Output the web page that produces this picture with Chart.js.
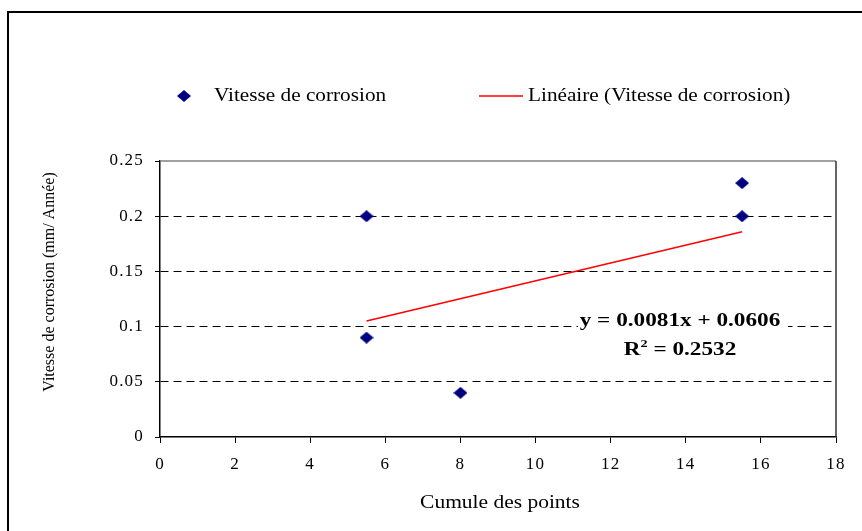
<!DOCTYPE html>
<html>
<head>
<meta charset="utf-8">
<script src="https://cdn.jsdelivr.net/npm/chart.js@4"></script>
<style>
html, body { margin: 0; padding: 0; background: #fff; }
</style>
</head>
<body>
<canvas id="corrosionChart" width="862" height="531"></canvas>
<script>
// données
const pointsX = [5.5, 5.5, 8, 15.5, 15.5];
const pointsY = [0.2, 0.09, 0.04, 0.23, 0.2];
const trendX = [5.5, 15.5];
const trendY = [0.105, 0.186];
const xTicks = [0, 2, 4, 6, 8, 10, 12, 14, 16, 18];
const yTicks = [0, 0.05, 0.1, 0.15, 0.2, 0.25];
const seriesLabels = ['Vitesse de corrosion', 'Linéaire (Vitesse de corrosion)'];
const xTitle = 'Cumule des points';
const yTitle = 'Vitesse de corrosion (mm/ Année)';
const equationText = 'y = 0.0081x + 0.0606';
const r2Value = '0.2532';

const SERIF = '"Liberation Serif", "Times New Roman", serif';
const NAVY = '#000080';

// losange un peu plus large que haut, comme dans Excel
function makeDiamond(w, h) {
    const c = document.createElement('canvas');
    c.width = w;
    c.height = h;
    const g = c.getContext('2d');
    g.fillStyle = NAVY;
    g.beginPath();
    g.moveTo(w / 2, 0);
    g.lineTo(w, h / 2);
    g.lineTo(w / 2, h);
    g.lineTo(0, h / 2);
    g.closePath();
    g.fill();
    return c;
}
const diamond = makeDiamond(14, 12);

// texte étiré horizontalement
function drawText(ctx, text, x, y, font, sx, align) {
    ctx.save();
    ctx.letterSpacing = '0px';
    ctx.font = font;
    const w = ctx.measureText(text).width * sx;
    const left = align === 'center' ? x - w / 2 : x;
    ctx.translate(left, y);
    ctx.scale(sx, 1);
    ctx.textAlign = 'left';
    ctx.fillText(text, 0, 0);
    ctx.restore();
    return w;
}

/**
 * Cadre, légende, titres et équation
 */
const decorPlugin = {
    id: 'decor',
    beforeDraw(chart) {
        chart.ctx.letterSpacing = '1.2px';
    },
    beforeDatasetsDraw(chart) {
        // fond blanc de l'étiquette d'équation (masque la grille)
        const ctx = chart.ctx;
        ctx.save();
        ctx.fillStyle = '#fff';
        ctx.fillRect(578, 307, 210, 56);
        ctx.restore();
    },
    afterDraw(chart) {
        const ctx = chart.ctx;
        const area = chart.chartArea;
        ctx.save();
        ctx.letterSpacing = '0px';

        // cadre extérieur
        ctx.strokeStyle = '#000';
        ctx.lineWidth = 2;
        ctx.strokeRect(8, 12, 870, 540);

        // bord haut et droit de la zone de tracé
        ctx.lineWidth = 1.5;
        ctx.strokeStyle = '#808080';
        ctx.beginPath();
        ctx.moveTo(area.left, area.top);
        ctx.lineTo(area.right, area.top);
        ctx.stroke();
        ctx.strokeStyle = '#333';
        ctx.beginPath();
        ctx.moveTo(area.right, area.top);
        ctx.lineTo(area.right, area.bottom);
        ctx.stroke();

        // légende
        const ly = 96;
        ctx.drawImage(diamond, 184 - 7, ly - 6);
        ctx.strokeStyle = '#ff0000';
        ctx.lineWidth = 1.5;
        ctx.beginPath();
        ctx.moveTo(479, ly);
        ctx.lineTo(523, ly);
        ctx.stroke();
        ctx.fillStyle = '#000';
        ctx.textBaseline = 'middle';
        drawText(ctx, seriesLabels[0], 214, ly, '18px ' + SERIF, 1.18, 'left');
        drawText(ctx, seriesLabels[1], 528, ly, '18px ' + SERIF, 1.18, 'left');

        // titres des axes
        drawText(ctx, xTitle, 500, 503, '19px ' + SERIF, 1.13, 'center');
        ctx.save();
        ctx.translate(50, 282);
        ctx.rotate(-Math.PI / 2);
        drawText(ctx, yTitle, 0, 0, '16px ' + SERIF, 1.0, 'center');
        ctx.restore();

        // équation de la tendance
        const sx = 1.29;
        drawText(ctx, equationText, 680, 321, 'bold 18px ' + SERIF, sx, 'center');
        const rest = ' = ' + r2Value;
        ctx.font = 'bold 18px ' + SERIF;
        const wR = ctx.measureText('R').width * sx;
        const wRest = ctx.measureText(rest).width * sx;
        ctx.font = 'bold 11px ' + SERIF;
        const wSup = ctx.measureText('2').width * sx;
        const x0 = 680 - (wR + wSup + wRest) / 2;
        drawText(ctx, 'R', x0, 350, 'bold 18px ' + SERIF, sx, 'left');
        drawText(ctx, '2', x0 + wR, 344, 'bold 11px ' + SERIF, sx, 'left');
        drawText(ctx, rest, x0 + wR + wSup, 350, 'bold 18px ' + SERIF, sx, 'left');

        ctx.restore();
    }
};

const ctx = document.getElementById('corrosionChart');

new Chart(ctx, {
    type: 'scatter',
    data: {
        datasets: [{
            label: seriesLabels[0],
            data: pointsX.map((x, i) => ({x: x, y: pointsY[i]})),
            pointStyle: diamond,
            backgroundColor: NAVY,
            borderColor: NAVY
        }, {
            label: seriesLabels[1],
            data: trendX.map((x, i) => ({x: x, y: trendY[i]})),
            showLine: true,
            pointRadius: 0,
            borderColor: '#ff0000',
            borderWidth: 1.5
        }]
    },
    options: {
        responsive: false,
        animation: false,
        layout: {
            padding: {left: 100, right: 26, top: 161, bottom: 34}
        },
        plugins: {
            legend: {display: false},
            tooltip: {enabled: false}
        },
        scales: {
            x: {
                type: 'linear',
                min: 0,
                max: 18,
                afterBuildTicks: s => { s.ticks = xTicks.map(v => ({value: v})); },
                afterFit: s => { s.height = 60; },
                grid: {drawOnChartArea: false, drawTicks: true, tickLength: 6, color: '#000'},
                border: {color: '#000', width: 1.5},
                ticks: {
                    color: '#000',
                    padding: 11,
                    maxRotation: 0,
                    font: {family: SERIF, size: 17},
                    callback: v => String(v)
                }
            },
            y: {
                min: 0,
                max: 0.25,
                afterBuildTicks: s => { s.ticks = yTicks.map(v => ({value: v})); },
                afterFit: s => { s.width = 60; },
                grid: {
                    color: c => (c.tick && (c.tick.value === 0.25 || c.tick.value === 0)) ? 'rgba(0,0,0,0)' : '#000',
                    tickColor: '#000',
                    lineWidth: 1,
                    tickLength: 5
                },
                border: {color: '#000', width: 1.5, dash: [8, 5]},
                ticks: {
                    color: '#000',
                    padding: 11,
                    font: {family: SERIF, size: 17},
                    callback: v => String(v)
                }
            }
        }
    },
    plugins: [decorPlugin]
});
</script>
</body>
</html>
